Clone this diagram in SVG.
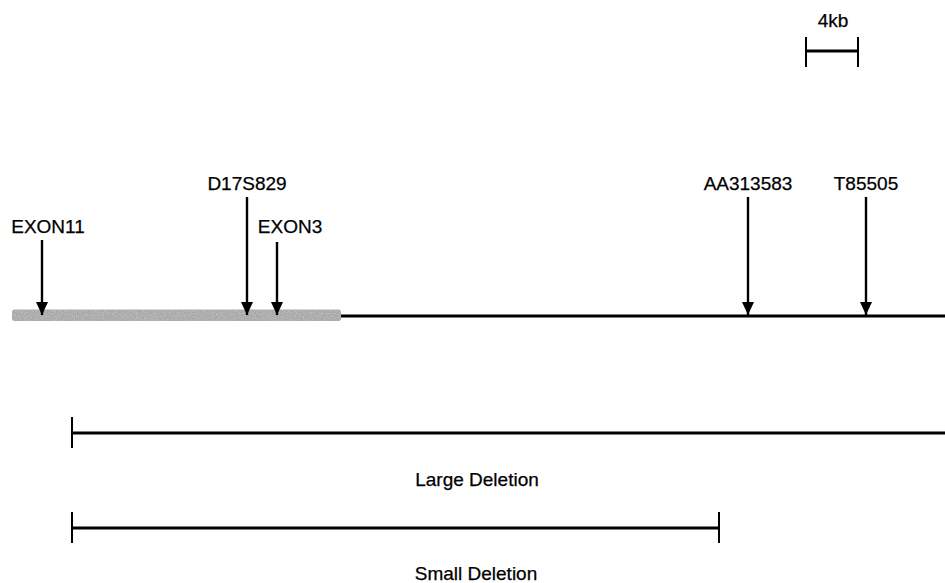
<svg xmlns="http://www.w3.org/2000/svg" width="945" height="583" viewBox="0 0 945 583">
<style>
text{font-family:"Liberation Sans",Arial,sans-serif;font-size:19px;fill:#000;text-anchor:middle;stroke:#000;stroke-width:0.25}
.ln{stroke:#000;stroke-width:3.2;fill:none}
.tk{stroke:#000;stroke-width:2;fill:none}
.ar{stroke:#000;stroke-width:2.4;fill:none;marker-end:url(#ah)}
</style>
<defs>
<marker id="ah" viewBox="0 0 13 13" refX="13" refY="6.5" markerWidth="13" markerHeight="13" markerUnits="userSpaceOnUse" orient="auto">
<path d="M0,0.5 L13,6.5 L0,12.5 Z" fill="#000"/>
</marker>
<filter id="grain" x="0" y="0" width="1" height="1">
<feTurbulence type="fractalNoise" baseFrequency="0.9" numOctaves="2" seed="3" result="n"/>
<feColorMatrix in="n" type="matrix" values="0 0 0 0 0.55  0 0 0 0 0.55  0 0 0 0 0.55  0 0 0 2.2 -0.9" result="d"/>
<feComposite in="d" in2="SourceGraphic" operator="atop"/>
</filter>
</defs>
<g id="scale">
<text x="833" y="27">4kb</text>
<line class="tk" x1="806" y1="37" x2="806" y2="67"/>
<line class="tk" x1="858" y1="37" x2="858" y2="67"/>
<line class="ln" x1="806" y1="51" x2="858" y2="51"/>
</g>
<g id="chromosome">
<line class="ln" x1="335" y1="316" x2="945" y2="316"/>
<rect x="12" y="309.5" width="329" height="11.5" rx="2.5" fill="#a8a8a8" filter="url(#grain)"/>
</g>
<g id="EXON11"><text x="48" y="233">EXON11</text></g>
<g id="D17S829"><text x="247" y="190">D17S829</text></g>
<g id="EXON3"><text x="290" y="233">EXON3</text></g>
<g id="AA313583"><text x="748" y="190">AA313583</text></g>
<g id="T85505"><text x="866" y="190">T85505</text></g>
<g id="large-deletion">
<line class="tk" x1="72" y1="417" x2="72" y2="448"/>
<line class="ln" x1="72" y1="433" x2="945" y2="433"/>
<text x="477" y="486">Large Deletion</text>
</g>
<g id="small-deletion">
<line class="tk" x1="72" y1="512" x2="72" y2="543"/>
<line class="tk" x1="719" y1="512" x2="719" y2="543"/>
<line class="ln" x1="72" y1="528" x2="719" y2="528"/>
<text x="476" y="580">Small Deletion</text>
</g>
<g id="connectors">
<line class="ar" x1="42" y1="240" x2="42" y2="315"/>
<line class="ar" x1="247" y1="197" x2="247" y2="315"/>
<line class="ar" x1="277" y1="242" x2="277" y2="315"/>
<line class="ar" x1="748" y1="197" x2="748" y2="315"/>
<line class="ar" x1="866" y1="197" x2="866" y2="315"/>
</g>
</svg>
